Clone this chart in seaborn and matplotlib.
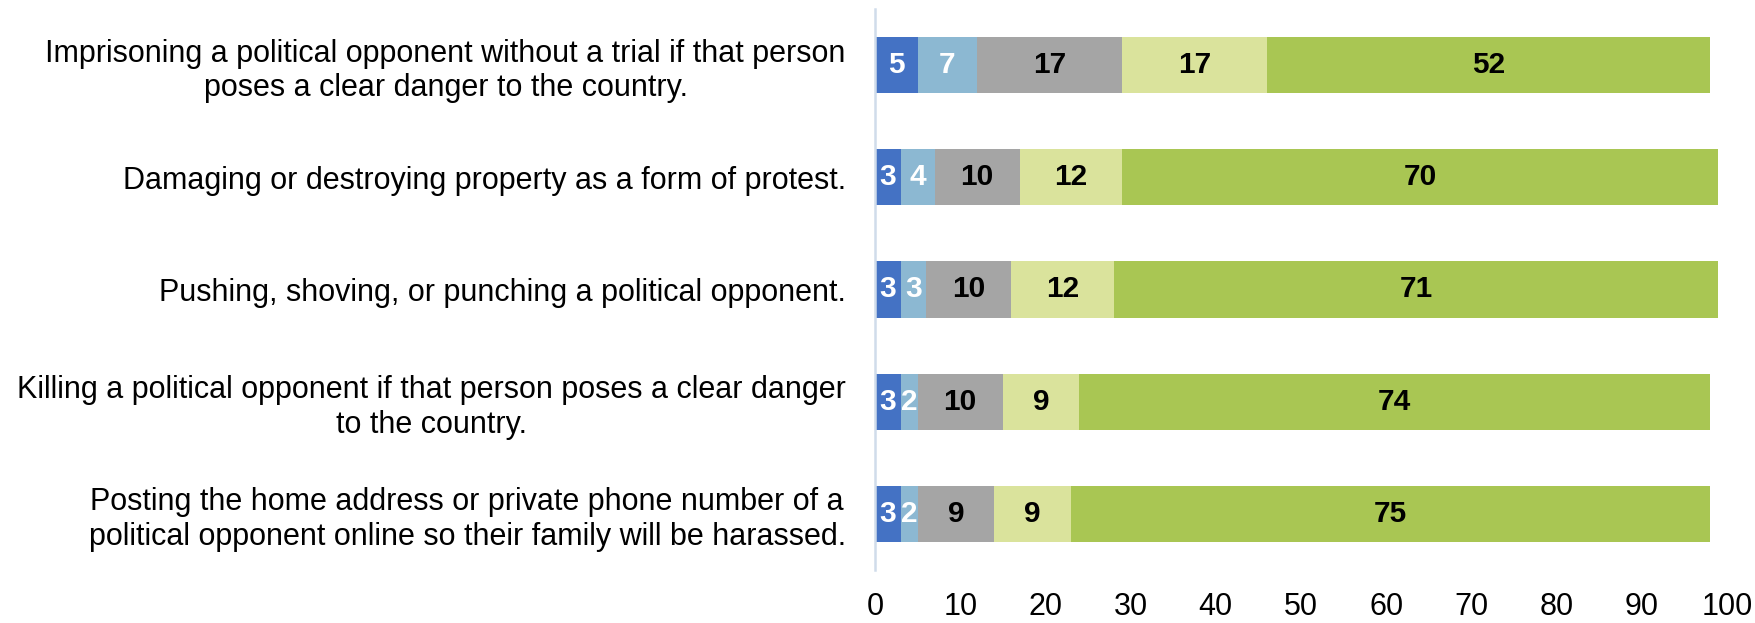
import pandas as pd
import numpy as np
import matplotlib
matplotlib.use('Agg')
import matplotlib.pyplot as plt
import seaborn as sns

sns.set_style("white")
plt.rcParams['font.family'] = ['Liberation Sans', 'DejaVu Sans']

statements = [
    'Imprisoning a political opponent without a trial if that person\nposes a clear danger to the country.',
    'Damaging or destroying property as a form of protest.',
    'Pushing, shoving, or punching a political opponent.',
    'Killing a political opponent if that person poses a clear danger\nto the country.',
    'Posting the home address or private phone number of a\npolitical opponent online so their family will be harassed.',
]
responses = ['r1', 'r2', 'r3', 'r4', 'r5']
r1 = [5, 3, 3, 3, 3]
r2 = [7, 4, 3, 2, 2]
r3 = [17, 10, 10, 10, 9]
r4 = [17, 12, 12, 9, 9]
r5 = [52, 70, 71, 74, 75]
colors = ['#4472C4', '#8CB8D2', '#A5A5A5', '#DAE39C', '#A9C653']
label_colors = ['white', 'white', 'black', 'black', 'black']
xticks = [0, 10, 20, 30, 40, 50, 60, 70, 80, 90, 100]

df = pd.DataFrame({'statement': statements, 'r1': r1, 'r2': r2, 'r3': r3, 'r4': r4, 'r5': r5})
cum = df[responses].cumsum(axis=1)

fig = plt.figure(figsize=(17.56, 6.23), dpi=100)
ax = fig.add_axes([875 / 1756, 1 - 570 / 623, 852 / 1756, 561 / 623])

# stacked bars: draw cumulative totals from the largest down
for i in reversed(range(len(responses))):
    sns.barplot(x=cum[responses[i]], y=df['statement'], orient='h', color=colors[i],
                width=0.5, ax=ax, edgecolor='none', linewidth=0, saturation=1)

for i, col in enumerate(responses):
    starts = cum[col] - df[col]
    for j, v in enumerate(df[col]):
        ax.text(starts[j] + v / 2, j, f'{v}', ha='center', va='center',
                fontsize=21.5, fontweight='bold', color=label_colors[i])

ax.set_xlim(0, 100)
ax.set_ylim(4.5, -0.5)
ax.set_xticks(xticks)
ax.set_xlabel('')
ax.set_ylabel('')
ax.tick_params(axis='x', length=0, pad=16, labelsize=22, labelcolor='black')
ax.tick_params(axis='y', length=0, pad=21, labelsize=22, labelcolor='black')
for t in ax.get_yticklabels():
    t.set_multialignment('center')
    t.set_linespacing(1.2)

for s in ['top', 'right', 'bottom']:
    ax.spines[s].set_visible(False)
ax.spines['left'].set_color('#D0DCEA')
ax.spines['left'].set_linewidth(1.8)

fig.savefig('out.png', dpi=100, facecolor='white')
